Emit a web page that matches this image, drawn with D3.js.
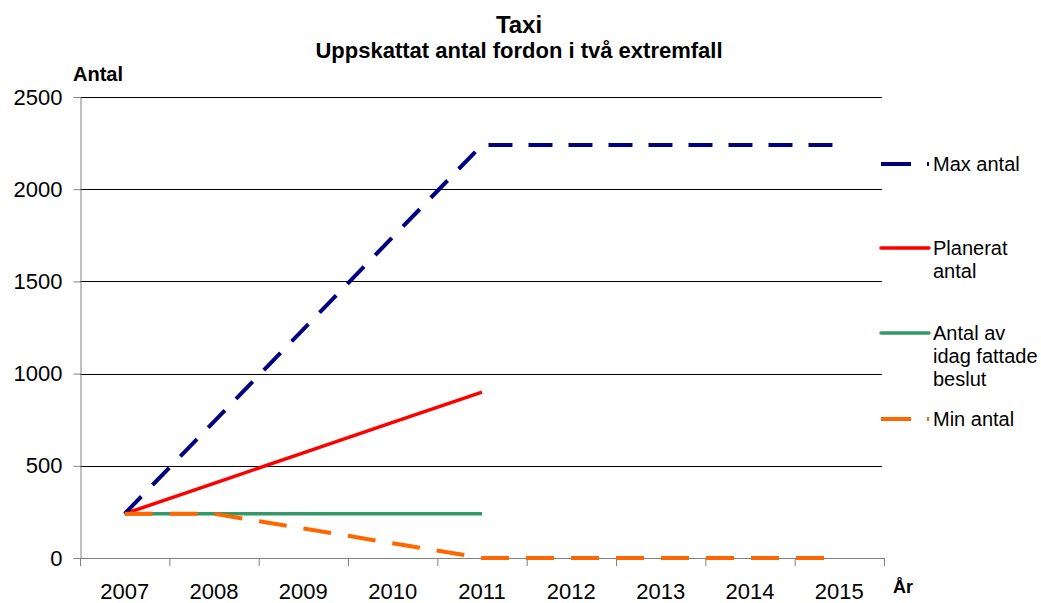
<!DOCTYPE html>
<html>
<head>
<meta charset="utf-8">
<script src="https://cdn.jsdelivr.net/npm/d3@7"></script>
<style>
  body { margin: 0; background: #fff; }
  svg { display: block; font-family: "Liberation Sans", Arial, sans-serif; }
</style>
</head>
<body>
<svg id="chart"></svg>
<script>
// data
var years = ["2007", "2008", "2009", "2010", "2011", "2012", "2013", "2014", "2015"];
var maxAntal = [240, 740, 1240, 1740, 2240, 2240, 2240, 2240, 2240];
var planeratAntal = [240, 405, 570, 735, 900, null, null, null, null];
var fattadeBeslut = [240, 240, 240, 240, 240, null, null, null, null];
var minAntal = [240, 240, 160, 80, 0, 0, 0, 0, 0];
var yTicks = [0, 500, 1000, 1500, 2000, 2500];

var series = [
  {name: ["Max antal"], values: maxAntal, color: "#000080", dash: "24,16", width: 4, legendY: 164},
  {name: ["Planerat", "antal"], values: planeratAntal, color: "#ff0000", dash: null, width: 3.5, legendY: 248},
  {name: ["Antal av", "idag fattade", "beslut"], values: fattadeBeslut, color: "#339966", dash: null, width: 3.5, legendY: 333},
  {name: ["Min antal"], values: minAntal, color: "#ff6600", dash: "28,17", width: 4, legendY: 419}
];

var width = 1041, height = 603;
var svg = d3.select("#chart").attr("width", width).attr("height", height);
svg.append("rect").attr("width", width).attr("height", height).attr("fill", "#fff");

var plotLeft = 80, plotRight = 884, plotTop = 97, plotBottom = 558;

var x = d3.scaleBand().domain(years).range([plotLeft, plotRight]).padding(0);
var y = d3.scaleLinear().domain([0, 2500]).range([plotBottom, plotTop]);
var cx = function(d) { return x(d) + x.bandwidth() / 2; };

// title
svg.append("text").attr("x", 519).attr("y", 33).attr("text-anchor", "middle")
  .style("font-weight", "bold").style("font-size", "24px").text("Taxi");
svg.append("text").attr("x", 519).attr("y", 58).attr("text-anchor", "middle")
  .style("font-weight", "bold").style("font-size", "22px").text("Uppskattat antal fordon i två extremfall");
svg.append("text").attr("x", 73).attr("y", 81)
  .style("font-weight", "bold").style("font-size", "20px").text("Antal");
svg.append("text").attr("x", 893).attr("y", 593)
  .style("font-weight", "bold").style("font-size", "18px").text("År");

// gridlines
svg.append("g").selectAll("line").data(yTicks.filter(function(d) { return d > 0; }))
  .enter().append("line")
  .attr("x1", plotLeft).attr("x2", 882)
  .attr("y1", function(d) { return Math.round(y(d)) + 0.5; })
  .attr("y2", function(d) { return Math.round(y(d)) + 0.5; })
  .attr("stroke", "#000").attr("stroke-width", 1);

// y axis
var yAxis = d3.axisLeft(y).tickValues(yTicks).tickFormat(d3.format("d")).tickSize(7).tickPadding(11);
var yGroup = svg.append("g").attr("transform", "translate(" + (plotLeft + 0.5) + ",0)").call(yAxis);
yGroup.select(".domain").attr("stroke", "#808080");
yGroup.selectAll(".tick line").attr("stroke", "#808080");
yGroup.selectAll(".tick text").style("font-size", "22px").style("font-family", "Liberation Sans, Arial, sans-serif")
  .attr("fill", "#000");

// x axis
svg.append("line").attr("x1", plotLeft).attr("x2", plotRight)
  .attr("y1", plotBottom + 0.5).attr("y2", plotBottom + 0.5).attr("stroke", "#808080");
svg.append("g").selectAll("line").data(years.concat(["end"]))
  .enter().append("line")
  .attr("x1", function(d) { return (d === "end" ? plotRight : x(d)) + 0.5; })
  .attr("x2", function(d) { return (d === "end" ? plotRight : x(d)) + 0.5; })
  .attr("y1", plotBottom).attr("y2", plotBottom + 8)
  .attr("stroke", "#808080");
svg.append("g").selectAll("text").data(years)
  .enter().append("text")
  .attr("x", cx).attr("y", 599)
  .attr("text-anchor", "middle").style("font-size", "22px")
  .text(function(d) { return d; });

// lines
var line = d3.line()
  .defined(function(d) { return d.v != null; })
  .x(function(d) { return cx(d.year); })
  .y(function(d) { return y(d.v); });

// draw order: green, red, blue, orange on top
[2, 1, 0, 3].forEach(function(i) {
  var s = series[i];
  var pts = years.map(function(yr, j) { return {year: yr, v: s.values[j]}; });
  svg.append("path").datum(pts)
    .attr("d", line)
    .attr("fill", "none")
    .attr("stroke", s.color)
    .attr("stroke-width", s.width)
    .attr("stroke-dasharray", s.dash)
    .attr("stroke-linejoin", "round");
});

// legend
var legend = svg.append("g").selectAll("g").data(series).enter().append("g")
  .attr("transform", function(d) { return "translate(0," + d.legendY + ")"; });
legend.append("line")
  .attr("x1", 881).attr("x2", 929).attr("y1", 0).attr("y2", 0)
  .attr("stroke", function(d) { return d.color; })
  .attr("stroke-width", function(d) { return d.width; })
  .attr("stroke-dasharray", function(d) { return d.dash ? "30,16" : null; })
  .attr("stroke-linecap", function(d) { return d.dash ? "butt" : "round"; });
legend.each(function(d) {
  var t = d3.select(this).append("text").attr("x", 933).attr("y", 0)
    .style("font-size", "20px");
  d.name.forEach(function(n, k) {
    t.append("tspan").attr("x", 933).attr("dy", k === 0 ? "0.35em" : "1.15em").text(n);
  });
});
</script>
</body>
</html>
